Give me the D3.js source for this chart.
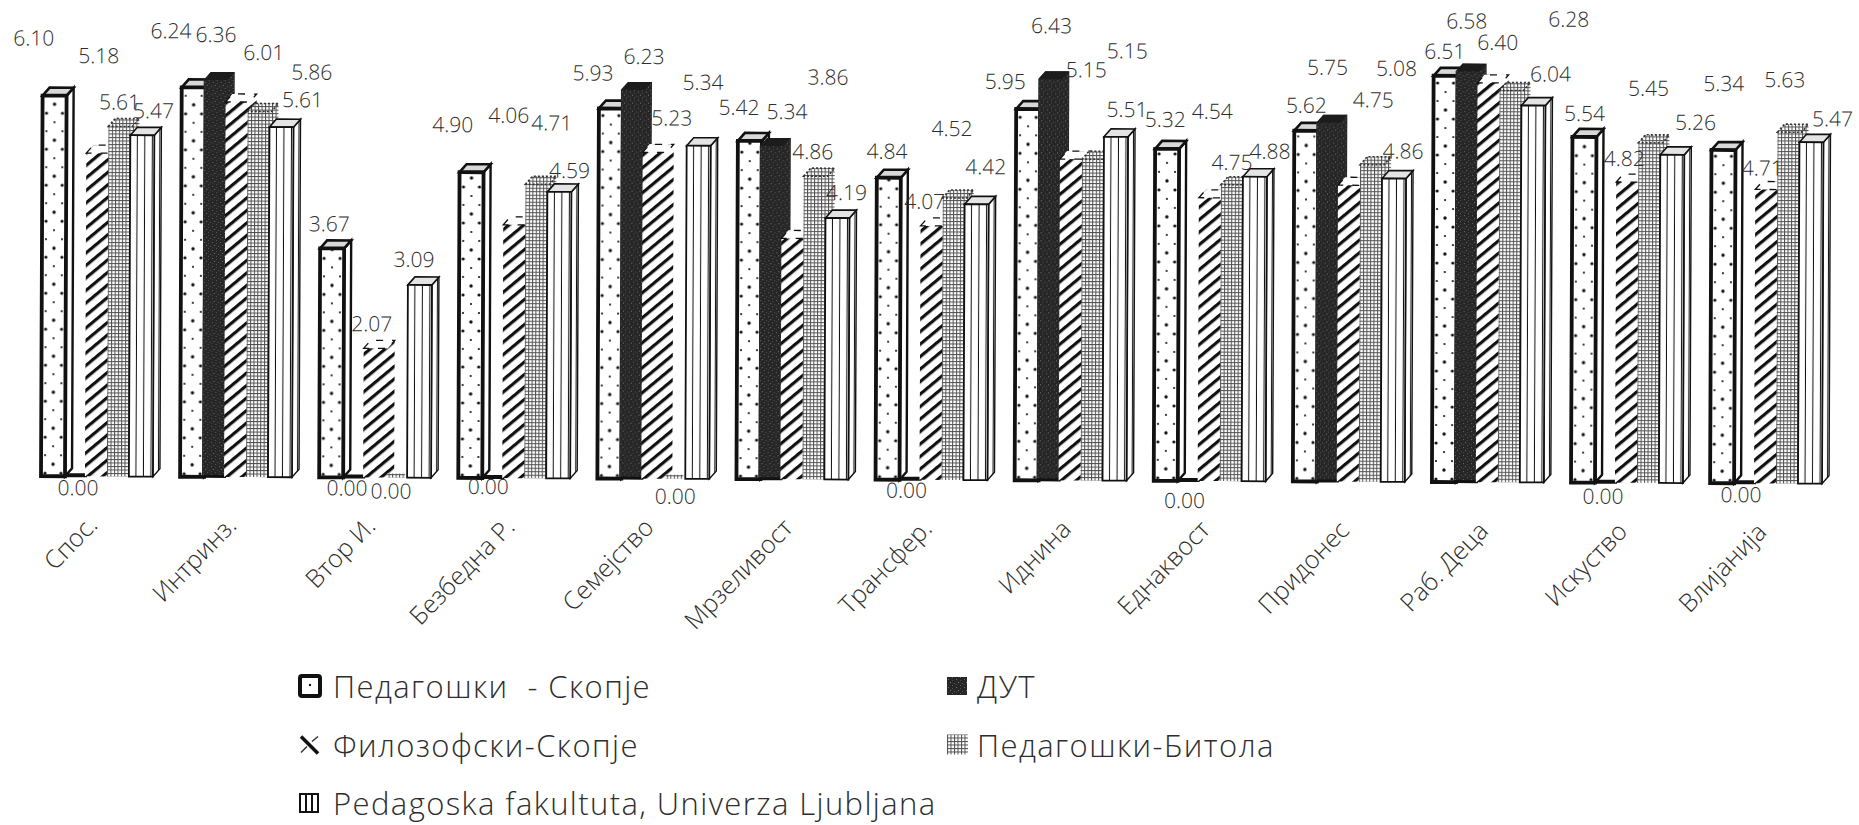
<!DOCTYPE html>
<html>
<head>
<meta charset="utf-8">
<style>
html,body{margin:0;padding:0;background:#fff}
svg{display:block}
text{font-family:"Open Sans","Noto Sans",sans-serif;font-weight:300;fill:#2e2e2e;white-space:pre}
</style>
</head>
<body>
<div id="chart"></div>
<script src="https://cdn.jsdelivr.net/npm/d3@7/dist/d3.min.js"></script>
<script>
const categories = ["Спос.","Интринз.","Втор И.","Безбедна Р.","Семејство","Мрзеливост","Трансфер.","Иднина","Еднаквост","Придонес","Раб. Деца","Искуство","Влијанија"];
const seriesNames = ["Педагошки  - Скопје","ДУТ","Филозофски-Скопје","Педагошки-Битола","Pedagoska fakultuta, Univerza Ljubljana"];

const pedagoskiSkopje = [6.10,6.24,3.67,4.90,5.93,5.42,4.84,5.95,5.32,5.62,6.51,5.54,5.34];
const dut             = [0.00,6.36,0.00,0.00,6.23,5.34,0.00,6.43,0.00,5.75,6.58,0.00,0.00];
const filozofskiSkopje= [5.18,6.01,2.07,4.06,5.23,3.86,4.07,5.15,4.54,4.75,6.40,4.82,4.71];
const pedagoskiBitola = [5.61,5.86,0.00,4.71,0.00,4.86,4.52,5.15,4.75,5.08,6.28,5.45,5.63];
const ljubljana       = [5.47,5.61,3.09,4.59,5.34,4.19,4.42,5.51,4.88,4.86,6.04,5.26,5.47];
const seriesValues = [pedagoskiSkopje,dut,filozofskiSkopje,pedagoskiBitola,ljubljana];

// Hand-placed data label nudges from the top of each bar: [dx, dy] per category, per series.
const labelNudges = [
 [[-21,-58],[3,11],[0,-98],[-1,-25],[11,-25]],
 [[-23,-57],[0,-46],[26,-50],[52,-40],[21,-28]],
 [[-3,-25],[-6,10],[-4,-25],[-6,13],[-6,-26]],
 [[-19,-48],[-4,8],[-7,-110],[14,-62],[10,-22]],
 [[-18,-36],[11,-34],[17,-35],[0,17],[4,-64]],
 [[-11,-34],[15,-35],[34,-162],[-3,-25],[9,-26]],
 [[-2,-27],[-3,10],[-8,-25],[-3,-70],[9,-38]],
 [[-23,-28],[1,-54],[14,-90],[33,-109],[11,-28]],
 [[-2,-30],[-3,19],[1,-87],[-1,-23],[15,-26]],
 [[0,-26],[-1,-56],[23,-86],[24,-97],[9,-28]],
 [[-1,-25],[-1,-51],[8,-41],[57,-72],[17,-32]],
 [[0,-24],[-2,13],[-4,-24],[-2,-55],[23,-33]],
 [[0,-67],[-3,11],[-5,-22],[-5,-53],[21,-24]]
];

const W = 1859, H = 825;
const baseline = 476, unit = 62.4;
const frontW = 24, depthX = 7, depthY = 8;

const svg = d3.select("#chart").append("svg").attr("width",W).attr("height",H);
const defs = svg.append("defs");

// Fill textures for the five series.
function tile(id,w,h,transform){
  const p = defs.append("pattern").attr("id",id).attr("patternUnits","userSpaceOnUse")
    .attr("width",w).attr("height",h);
  if(transform) p.attr("patternTransform",transform);
  return p;
}
const dots = tile("fillDots",16,36);
dots.append("rect").attr("width",16).attr("height",36).attr("fill","#fff");
[[4,5,1.6],[12,14,1.1],[4,23,1.1],[12,32,1.7]].forEach(d=>dots.append("circle").attr("cx",d[0]).attr("cy",d[1]).attr("r",d[2]).attr("fill","#111"));

const speckle = tile("fillSpeckle",8,8);
speckle.append("rect").attr("width",8).attr("height",8).attr("fill","#262626");
[[1,1,"#6a6a6a"],[5,2,"#4d4d4d"],[3,4,"#777"],[7,5,"#555"],[1,6,"#444"],[5,7,"#5e5e5e"]].forEach(d=>
  speckle.append("rect").attr("x",d[0]).attr("y",d[1]).attr("width",1).attr("height",1).attr("fill",d[2]));

const hatch = tile("fillHatch",10,9.6,"rotate(-40)");
hatch.append("rect").attr("width",10).attr("height",9.6).attr("fill","#fff");
hatch.append("rect").attr("width",10).attr("height",3.2).attr("fill","#111");

const grid = tile("fillGrid",3.5,3.5);
grid.append("rect").attr("width",3.5).attr("height",3.5).attr("fill","#fff");
grid.append("rect").attr("width",3.5).attr("height",1).attr("fill","#505050");
grid.append("rect").attr("width",1).attr("height",3.5).attr("fill","#505050");

const stripes = tile("fillStripes",7.5,8);
stripes.append("rect").attr("width",7.5).attr("height",8).attr("fill","#fff");
stripes.append("rect").attr("x",6.5).attr("width",1.8).attr("height",8).attr("fill","#111");

// The whole plot sits on a very slight clockwise tilt.
const plot = svg.append("g").attr("transform",`rotate(0.24 0 ${baseline})`);

const y = d3.scaleLinear().domain([0,1]).range([baseline,baseline-unit]);
const x0 = d3.scaleBand().domain(categories).range([41,1820]).paddingInner(0.21).paddingOuter(0);
const x1 = d3.scaleBand().domain(seriesNames).range([0,x0.bandwidth()]);

const rows = [];
categories.forEach((c,g)=>seriesNames.forEach((s,i)=>rows.push({c,g,s,i,v:seriesValues[i][g]})));

const barG = plot.selectAll("g.bar").data(rows).join("g").attr("class","bar")
  .attr("transform",d=>`translate(${x0(d.c)+x1(d.s)},0)`);

const silhouette = (t,b)=>`M0,${b}V${t}L${depthX},${t-depthY}H${frontW+depthX}V${b-depthY}L${frontW},${b}Z`;
const topFace = t=>`M0,${t}L${depthX},${t-depthY}H${frontW+depthX}L${frontW},${t}Z`;
const sideFace = (t,b)=>`M${frontW},${t}L${frontW+depthX},${t-depthY}V${b-depthY}L${frontW},${b}Z`;

barG.each(function(d){
  const g = d3.select(this), t = y(d.v), b = y(0);
  if(d.v===0){
    if(d.i===1) g.append("rect").attr("x",2).attr("y",b-3).attr("width",22).attr("height",4).attr("fill","#111");
    if(d.i===3) g.append("rect").attr("x",2).attr("y",b-4).attr("width",18).attr("height",4).attr("fill","url(#fillGrid)");
    return;
  }
  if(d.i===0){
    g.append("path").attr("d",sideFace(t,b)).attr("fill","#fff").attr("stroke","#111").attr("stroke-width",2.4);
    g.append("path").attr("d",topFace(t)).attr("fill","#d8d8d8").attr("stroke","#111").attr("stroke-width",2.6);
    g.append("rect").attr("x",0).attr("y",t).attr("width",frontW).attr("height",b-t)
      .attr("fill","url(#fillDots)").attr("stroke","#111").attr("stroke-width",3.8);
  } else if(d.i===1){
    g.append("path").attr("d",silhouette(t,b)).attr("fill","url(#fillSpeckle)");
    g.append("path").attr("d",topFace(t)).attr("fill","#1a1a1a").attr("opacity",0.85);
    g.append("rect").attr("y",b-2).attr("width",frontW).attr("height",3).attr("fill","#111");
  } else if(d.i===2){
    g.append("path").attr("d",silhouette(t,b)).attr("fill","url(#fillHatch)");
    g.append("path").attr("d",topFace(t)).attr("fill","#fff").attr("stroke","#111").attr("stroke-width",1.3).attr("stroke-dasharray","7 9");
  } else if(d.i===3){
    g.append("path").attr("d",silhouette(t,b)).attr("fill","url(#fillGrid)");
    g.append("path").attr("d",topFace(t)).attr("fill","none").attr("stroke","#333").attr("stroke-width",1.6).attr("stroke-dasharray","2 2");
  } else {
    g.append("path").attr("d",sideFace(t,b)).attr("fill","url(#fillStripes)").attr("stroke","#111").attr("stroke-width",1.4);
    g.append("path").attr("d",topFace(t)).attr("fill","#e4e4e4").attr("stroke","#111").attr("stroke-width",1.6);
    g.append("rect").attr("y",t).attr("width",frontW).attr("height",b-t)
      .attr("fill","url(#fillStripes)").attr("stroke","#111").attr("stroke-width",1.8);
  }
});

// Data labels
plot.selectAll("text.val").data(rows).join("text").attr("class","val")
  .attr("text-anchor","middle").attr("dominant-baseline","central").attr("font-size",21)
  .attr("x",d=>x0(d.c)+x1(d.s)+12+labelNudges[d.g][d.i][0])
  .attr("y",d=>y(d.v)+labelNudges[d.g][d.i][1])
  .text(d=>d.v.toFixed(2));

// Category labels
plot.selectAll("text.cat").data(categories).join("text").attr("class","cat")
  .attr("text-anchor","end").attr("font-size",25)
  .attr("transform",c=>`translate(${x0(c)+58},526) rotate(-46)`)
  .text(c=>c);

// Legend
const legendItems = [
 {col:0,row:0,fill:"url(#fillDots)",kind:0},
 {col:1,row:0,fill:"url(#fillSpeckle)",kind:1},
 {col:0,row:1,fill:"#fff",kind:2},
 {col:1,row:1,fill:"url(#fillGrid)",kind:3},
 {col:0,row:2,fill:"url(#fillStripes)",kind:4}
];
const rowY = d3.scalePoint().domain([0,1,2]).range([686,803]);
const colX = d3.scalePoint().domain([0,1]).range([298,947]);
const legend = svg.append("g");
const item = legend.selectAll("g").data(legendItems).join("g")
  .attr("transform",d=>`translate(${colX(d.col)},${rowY(d.row)})`);
item.each(function(d){
  const g = d3.select(this);
  if(d.kind===0){
    g.append("rect").attr("x",2).attr("y",-10).attr("width",20).attr("height",20).attr("rx",2).attr("fill","#fff").attr("stroke","#111").attr("stroke-width",4);
    g.append("circle").attr("cx",12).attr("cy",-1).attr("r",1.2).attr("fill","#111");
  } else if(d.kind===1){
    g.append("rect").attr("y",-9).attr("width",20).attr("height",18).attr("fill",d.fill);
  } else if(d.kind===2){
    g.append("path").attr("d","M3,-8L20,9").attr("stroke","#111").attr("stroke-width",3.5);
    g.append("path").attr("d","M3,8L9,2M14,-3L20,-8").attr("stroke","#333").attr("stroke-width",1.5);
  } else if(d.kind===3){
    g.append("rect").attr("y",-10).attr("width",21).attr("height",20).attr("fill",d.fill);
  } else {
    g.append("rect").attr("x",2).attr("y",-9).attr("width",18).attr("height",18).attr("fill","#fff").attr("stroke","#111").attr("stroke-width",2);
    g.append("path").attr("d","M8,-9V9M14,-9V9").attr("stroke","#111").attr("stroke-width",2);
  }
});
item.append("text").attr("x",d=>d.col===0?35:30).attr("dominant-baseline","central")
  .attr("font-size",31).attr("letter-spacing",1.4)
  .text(d=>seriesNames[d.kind]);
</script>
</body>
</html>
